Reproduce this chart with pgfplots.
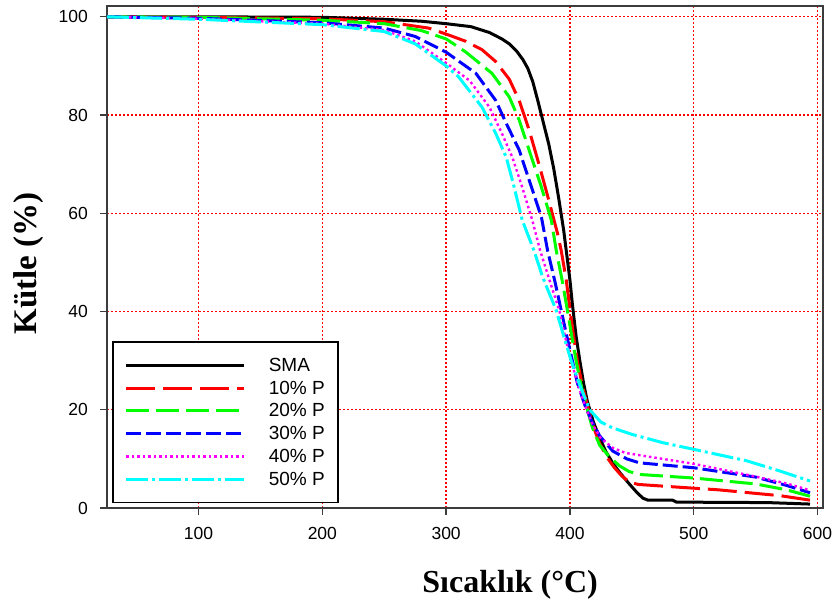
\documentclass[border=0pt]{standalone}
\usepackage{fontspec}
\setmainfont{Liberation Sans}
\newfontfamily\serifb{Liberation Serif}
\usepackage{pgfplots}
\pgfplotsset{compat=1.18}
\definecolor{axgray}{RGB}{60,60,60}
\definecolor{cR}{RGB}{255,0,0}
\definecolor{cG}{RGB}{0,255,0}
\definecolor{cB}{RGB}{0,0,255}
\definecolor{cM}{RGB}{255,0,255}
\definecolor{cC}{RGB}{0,255,255}
\begin{document}
\begin{tikzpicture}[x=1pt,y=1pt]
\useasboundingbox (0,0) rectangle (836,603);
\begin{axis}[
  at={(107pt,95pt)}, anchor=south west,
  scale only axis, width=716pt, height=502pt,
  xmin=26, xmax=604.5, ymin=0, ymax=102.2,
  xtick={100,200,300,400,500,600},
  ytick={0,20,40,60,80,100},
  tick pos=left, tick align=outside,
  major tick length=7pt,
  tick style={axgray, line width=1.3pt},
  axis line style={axgray, line width=1.8pt},
  grid=major,
  major grid style={cR, line width=1.3pt, dash pattern=on 1.6pt off 2.4pt},
  /pgf/number format/assume math mode=true,
  ticklabel style={font=\fontsize{17.5}{20}\selectfont, text=black},
  yticklabel style={anchor=east, inner sep=0pt, xshift=-12pt},
  xticklabel style={anchor=north, inner sep=0pt, yshift=-12pt},
  xlabel={Sıcaklık (\textdegree C)},
  ylabel={Kütle (\%)},
  xlabel style={font=\serifb\bfseries\fontsize{32}{36}\selectfont, at={(axis description cs:0.563,-0.169)}, anchor=base, inner sep=0pt},
  ylabel style={font=\serifb\bfseries\fontsize{33}{36}\selectfont, at={(axis description cs:-0.0978,0.487)}, anchor=base, rotate=0, inner sep=0pt},
  legend image code/.code={\draw[#1] (0pt,0pt) -- (118pt,0pt);},
  legend cell align=left,
  legend style={at={(axis description cs:0.007,0.009)}, anchor=south west,
    draw=black, line width=1.6pt, inner xsep=12pt, inner ysep=15pt,
    font=\fontsize{19}{21}\selectfont, row sep=6pt, column sep=22pt,
    nodes={inner sep=1pt}},
]
\addplot[black, line width=3pt] coordinates {
(26,100) (100,100) (200,99.9) (250,99.5) (280,99.1) (300,98.6) (320,98) (335,96.8)
(345,95.5) (351,94.5) (357,93) (362,91.3) (366,89.5) (370,86.8) (374,83) (378,79)
(383,74) (387,69) (391,63) (395,56.5) (398,50.5) (400,46.5) (402,41.5) (405,35)
(408,30) (411,25.5) (414,21.8) (419,17.5) (424,14.3) (429,11.5) (435,9) (441,7)
(448,4.9) (454,3.2) (459,2) (463,1.6) (483,1.6) (486,1.2) (560,1.1) (594,0.8)};
\addlegendentry{SMA}
\addplot[cR, line width=3pt, dash pattern=on 29pt off 8pt] coordinates {
(26,100) (100,99.9) (200,99.6) (250,99) (286,97.7) (302,96.3) (316,95) (329,93.3)
(340,90.9) (351,87.3) (359,83) (367,77) (375,70) (383,62.6) (390,55.9) (393,52.4)
(397,46.5) (400,40.5) (403,35) (406,30) (410,25) (414,21) (419,16.5) (424,13.2)
(430,10.3) (436,8.2) (442,6.5) (448,5.3) (455,4.8) (490,4.2) (520,3.7) (545,3.1)
(570,2.5) (594,1.6)};
\addlegendentry{10\% P}
\addplot[cG, line width=3pt, dash pattern=on 23pt off 7pt] coordinates {
(26,100) (100,99.9) (200,99.3) (250,98.6) (280,97.2) (300,95.5) (316,92.8) (337,88.5)
(351,83.7) (359,79) (367,72.9) (377,65.3) (385,58.6) (389,52.4) (394,46) (398,40.2)
(401.5,35) (405,30) (409,25) (413,21) (418,16.5) (424,12.8) (432,10.4) (440,8.6)
(448,7.4) (458,6.8) (500,6.1) (550,4.9) (575,3.7) (594,2.4)};
\addlegendentry{20\% P}
\addplot[cB, line width=3pt, dash pattern=on 15pt off 5pt] coordinates {
(26,100) (100,99.7) (200,98.8) (250,97.7) (275,96) (300,92.8) (324,88.5) (340,83)
(348.6,78.3) (359,72.9) (369,65.3) (377,59.2) (382,52.4) (388,46) (393,40.2)
(397.5,35) (402,30) (406,25.5) (412,21) (418,17.5) (424,14.7) (434.6,11.6) (446,10)
(456,9.2) (500,8.2) (550,6.3) (575,4.6) (594,3.1)};
\addlegendentry{30\% P}
\addplot[cM, line width=2.4pt, dash pattern=on 2.5pt off 3pt] coordinates {
(26,100) (100,99.6) (200,98.6) (250,97.3) (275,95) (300,90.6) (319,87) (335,81.6)
(345,76.3) (353.5,71.4) (361.5,65.3) (369.6,58.6) (376,52.4) (384,46) (391.5,40.2)
(396,35) (401,30) (406,25.5) (412,21) (418,17.2) (425,14.2) (435,12.2) (445,11.2)
(460,10.6) (500,9) (550,6.4) (575,5) (594,3.6)};
\addlegendentry{40\% P}
\addplot[cC, line width=3pt, dash pattern=on 22pt off 4pt on 3pt off 4pt] coordinates {
(26,100) (100,99.5) (200,98.4) (250,97) (275,94.5) (300,90) (310,87.8) (329,81.6)
(340,76.3) (348.6,71.4) (355,65.3) (361.5,58.6) (371,52.4) (378,47) (389,40.2)
(395,35) (401,30) (408,25) (416,20) (425,17.5) (434.6,16.3) (450,15) (475,13.3)
(499,12) (543,9.6) (570,7.5) (594,5.5)};
\addlegendentry{50\% P}
\end{axis}
\end{tikzpicture}
\end{document}
